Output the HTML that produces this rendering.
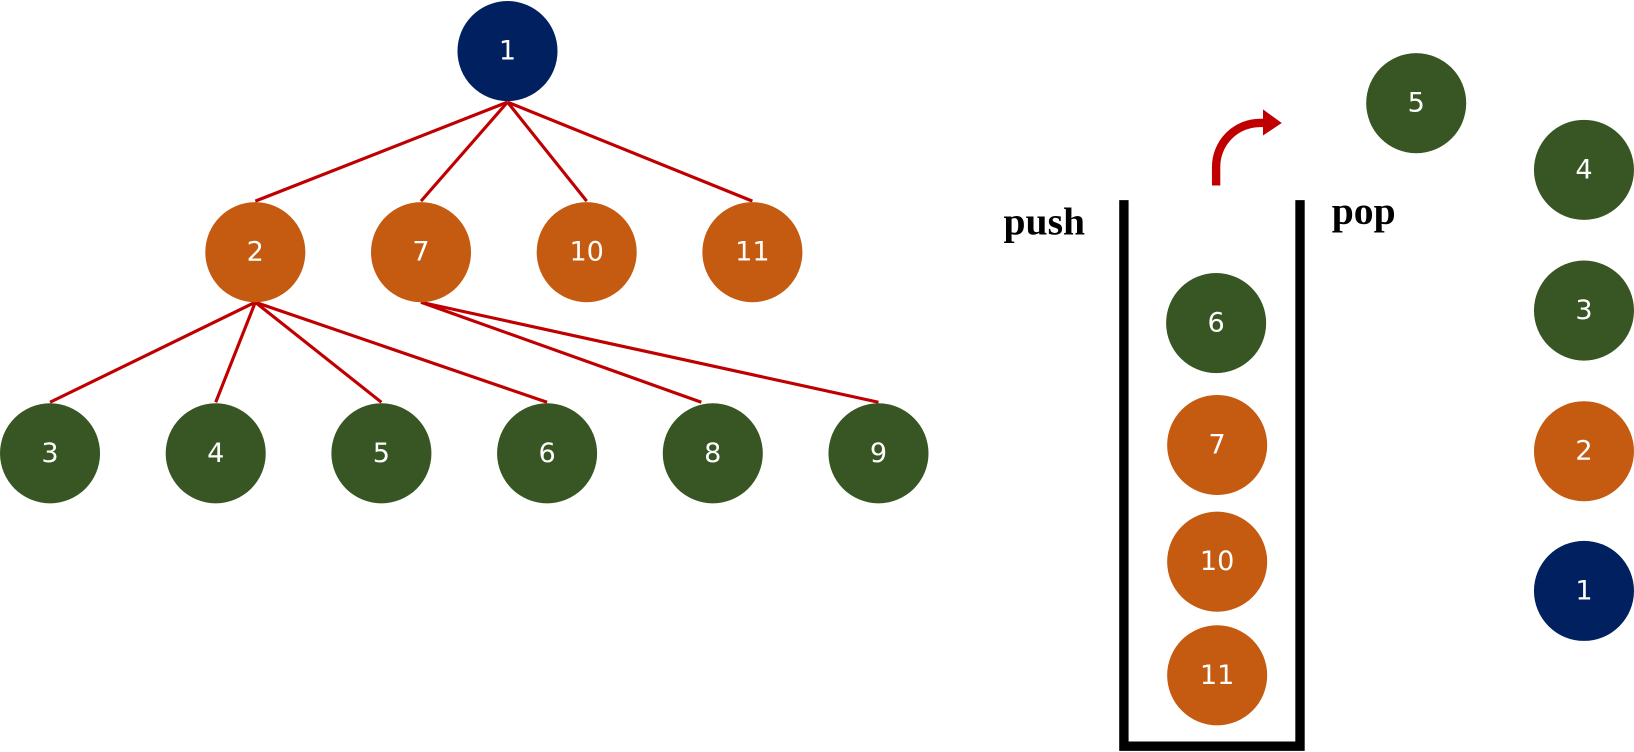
<!DOCTYPE html>
<html><head><meta charset="utf-8"><style>
html,body{margin:0;padding:0;background:#fff;overflow:hidden}
svg{display:block}
.n{font-family:"DejaVu Sans","Liberation Sans",sans-serif;font-size:26px;fill:#fff;text-anchor:middle;dominant-baseline:central}
.l{font-family:"Liberation Serif",serif;font-size:38px;font-weight:bold;fill:#000}
</style></head><body>
<svg width="1634" height="752" viewBox="0 0 1568 721.6" preserveAspectRatio="none">
<g stroke="#c00000" stroke-width="3" fill="none">
<line x1="487" y1="98" x2="245" y2="193"/>
<line x1="487" y1="98" x2="404" y2="193"/>
<line x1="487" y1="98" x2="563" y2="193"/>
<line x1="487" y1="98" x2="722" y2="193"/>
<line x1="245" y1="290" x2="48" y2="386"/>
<line x1="245" y1="290" x2="207" y2="386"/>
<line x1="245" y1="290" x2="366" y2="386"/>
<line x1="245" y1="290" x2="525" y2="386"/>
<line x1="404" y1="290" x2="673" y2="386"/>
<line x1="404" y1="290" x2="843" y2="386"/>
</g>
<g>
<circle cx="487" cy="49" r="48" fill="#002060"/><text class="n" x="487" y="49">1</text>
<circle cx="245" cy="242" r="48" fill="#c55a11"/><text class="n" x="245" y="242">2</text>
<circle cx="404" cy="242" r="48" fill="#c55a11"/><text class="n" x="404" y="242">7</text>
<circle cx="563" cy="242" r="48" fill="#c55a11"/><text class="n" x="563" y="242">10</text>
<circle cx="722" cy="242" r="48" fill="#c55a11"/><text class="n" x="722" y="242">11</text>
<circle cx="48" cy="435" r="48" fill="#375623"/><text class="n" x="48" y="435">3</text>
<circle cx="207" cy="435" r="48" fill="#375623"/><text class="n" x="207" y="435">4</text>
<circle cx="366" cy="435" r="48" fill="#375623"/><text class="n" x="366" y="435">5</text>
<circle cx="525" cy="435" r="48" fill="#375623"/><text class="n" x="525" y="435">6</text>
<circle cx="684" cy="435" r="48" fill="#375623"/><text class="n" x="684" y="435">8</text>
<circle cx="843" cy="435" r="48" fill="#375623"/><text class="n" x="843" y="435">9</text>

<circle cx="1167" cy="310" r="48" fill="#375623"/><text class="n" x="1167" y="310">6</text>
<circle cx="1168" cy="427" r="48" fill="#c55a11"/><text class="n" x="1168" y="427">7</text>
<circle cx="1168" cy="539" r="48" fill="#c55a11"/><text class="n" x="1168" y="539">10</text>
<circle cx="1168" cy="648" r="48" fill="#c55a11"/><text class="n" x="1168" y="648">11</text>

<circle cx="1359" cy="99" r="48" fill="#375623"/><text class="n" x="1359" y="99">5</text>
<circle cx="1520" cy="163" r="48" fill="#375623"/><text class="n" x="1520" y="163">4</text>
<circle cx="1520" cy="298" r="48" fill="#375623"/><text class="n" x="1520" y="298">3</text>
<circle cx="1520" cy="433" r="48" fill="#c55a11"/><text class="n" x="1520" y="433">2</text>
<circle cx="1520" cy="567" r="48" fill="#002060"/><text class="n" x="1520" y="567">1</text>
</g>
<path d="M1078.5 192 V716 H1247.5 V192" stroke="#000" stroke-width="9" fill="none"/>
<path d="M1167 178 V160 A42 42 0 0 1 1209 118 H1214" stroke="#c00000" stroke-width="8" fill="none"/>
<polygon points="1212,105 1230,118 1212,130" fill="#c00000"/>
<text class="l" x="963" y="225">push</text>
<text class="l" x="1278" y="215">pop</text>
</svg>
</body></html>
